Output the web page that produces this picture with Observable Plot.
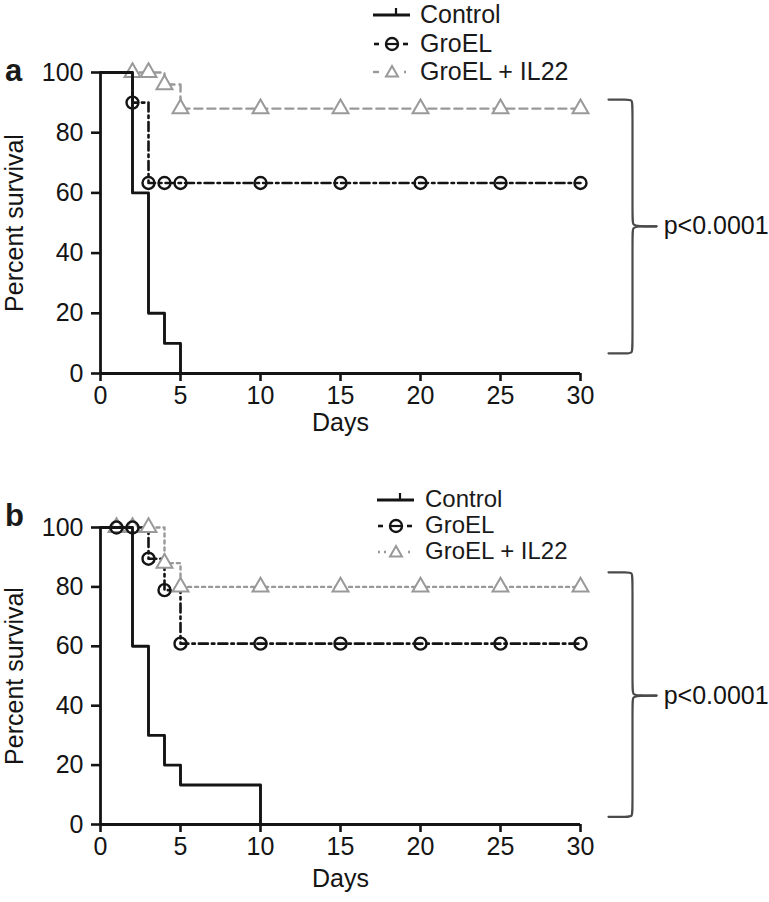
<!DOCTYPE html>
<html>
<head>
<meta charset="utf-8">
<script src="https://cdn.jsdelivr.net/npm/d3@7"></script>
<script src="https://cdn.jsdelivr.net/npm/@observablehq/plot@0.6"></script>
<style>
  body { margin: 0; background: #fff; font-family: "Liberation Sans", Arial, sans-serif; color: #1a1a1a; }
  #root { position: relative; width: 769px; height: 902px; overflow: hidden; }
  .panel { position: absolute; left: 0; }
  .plab { position: absolute; font-weight: bold; font-size: 31px; line-height: 31px; }
  .lrow { position: absolute; white-space: nowrap; }
  .lrow svg { position: absolute; top: 0; }
</style>
</head>
<body>
<div id="root"></div>
<script>
// ---------- data ----------
const groupNames = ["Control", "GroEL", "GroEL + IL22"];
const dayTicks = [0, 5, 10, 15, 20, 25, 30];
const pctTicks = [0, 20, 40, 60, 80, 100];
const pLabel = "p<0.0001";

// Panel a — Kaplan–Meier steps (day of change, percent after change)
const aControlDay = [0, 2, 3, 4, 5];
const aControlPct = [100, 60, 20, 10, 0];
const aGroELDay = [0, 2, 3, 30];
const aGroELPct = [100, 90, 63.3, 63.3];
const aGroELMarkDay = [2, 3, 4, 5, 10, 15, 20, 25, 30];
const aGroELMarkPct = [90, 63.3, 63.3, 63.3, 63.3, 63.3, 63.3, 63.3, 63.3];
const aIL22Day = [0, 4, 5, 30];
const aIL22Pct = [100, 96, 88, 88];
const aIL22MarkDay = [2, 3, 4, 5, 10, 15, 20, 25, 30];
const aIL22MarkPct = [100, 100, 96, 88, 88, 88, 88, 88, 88];
const aBracket = [91, 48.9, 6.7]; // top, middle, bottom (percent)

// Panel b
const bControlDay = [0, 2, 3, 4, 5, 10];
const bControlPct = [100, 60, 30, 20, 13.3, 0];
const bGroELDay = [0, 3, 4, 5, 30];
const bGroELPct = [100, 89.5, 78.9, 60.9, 60.9];
const bGroELMarkDay = [1, 2, 3, 4, 5, 10, 15, 20, 25, 30];
const bGroELMarkPct = [100, 100, 89.5, 78.9, 60.9, 60.9, 60.9, 60.9, 60.9, 60.9];
const bIL22Day = [0, 4, 5, 30];
const bIL22Pct = [100, 88, 80, 80];
const bIL22MarkDay = [1, 2, 3, 4, 5, 10, 15, 20, 25, 30];
const bIL22MarkPct = [100, 100, 100, 88, 80, 80, 80, 80, 80, 80];
const bBracket = [84.9, 43.4, 2.6];

// bracket geometry in day units (beyond the 30-day axis)
const bracketDays = [31.75, 33.25, 34.75, 35.2]; // arm start, spine, tip end, label x

// ---------- helpers ----------
const zip = (xs, ys) => xs.map((d, i) => ({day: d, pct: ys[i]}));
const BLACK = "#141414", GRAY = "#999999", BR = "#4a4a4a";
const FONT = "'Liberation Sans', Arial, sans-serif";
const FS = 25;

function bracketRows([top, mid, bot]) {
  const [x0, xs, xt] = bracketDays;
  const k = 2.6;
  const up = [[x0, top], [xs - 0.35, top], [xs, top], [xs, top - k], [xs, mid + k], [xs, mid + 0.4], [xs + 0.35, mid], [xt, mid]];
  const dn = [[x0, bot], [xs - 0.35, bot], [xs, bot], [xs, bot + k], [xs, mid - k], [xs, mid - 0.4], [xs + 0.35, mid], [xt, mid]];
  return [...up.map(([day, pct]) => ({day, pct, g: "u"})), ...dn.map(([day, pct]) => ({day, pct, g: "d"}))];
}

function panel(opts) {
  const {control, groel, groelMarks, il22, il22Marks, il22Dash, bracket, height, marginBottom, daysDy} = opts;
  return Plot.plot({
    width: 769,
    height,
    marginTop: 72,
    marginLeft: 100,
    marginRight: 189,
    marginBottom,
    x: {domain: [0, 30]},
    y: {domain: [0, 100]},
    style: {fontFamily: FONT, fontSize: FS + "px", color: BLACK, background: "transparent", overflow: "visible"},
    marks: [
      // bracket + p value
      Plot.line(bracketRows(bracket), {x: "day", y: "pct", z: "g", curve: "basis", stroke: BR, strokeWidth: 2.2}),
      Plot.text([pLabel], {x: () => bracketDays[3], y: () => bracket[1], textAnchor: "start", fontSize: FS, fill: BLACK}),
      // survival curves
      Plot.line(il22, {x: "day", y: "pct", curve: "step-after", stroke: GRAY, strokeWidth: 2.4, strokeDasharray: il22Dash}),
      Plot.line(groel, {x: "day", y: "pct", curve: "step-after", stroke: BLACK, strokeWidth: 2.6, strokeDasharray: "9,4,2.5,4"}),
      Plot.dot(il22Marks, {x: "day", y: "pct", symbol: "triangle", r: 5.9, stroke: GRAY, strokeWidth: 2, fill: "white"}),
      Plot.dot(groelMarks, {x: "day", y: "pct", r: 6, stroke: BLACK, strokeWidth: 2.4, fill: "none"}),
      Plot.line(control, {x: "day", y: "pct", curve: "step-after", stroke: BLACK, strokeWidth: 2.9}),
      // axes
      Plot.axisX({ticks: dayTicks, tickSize: 8, tickPadding: 5, strokeWidth: 2.6, stroke: BLACK, fontSize: FS, label: null}),
      Plot.axisY({ticks: pctTicks, tickSize: 9, tickPadding: 8, strokeWidth: 2.6, stroke: BLACK, fontSize: FS, label: null}),
      Plot.ruleY([0], {stroke: BLACK, strokeWidth: 2.8}),
      Plot.ruleX([0], {stroke: BLACK, strokeWidth: 2.8}),
      Plot.text(["Days"], {frameAnchor: "bottom", dy: daysDy, fontSize: FS, fill: BLACK}),
      Plot.text(["Percent survival"], {frameAnchor: "left", textAnchor: "middle", rotate: -90, dx: -86, fontSize: FS, fill: BLACK})
    ]
  });
}

const root = document.getElementById("root");

function place(el, top) {
  el.classList.add("panel");
  el.style.top = top + "px";
  root.appendChild(el);
}

place(panel({
  control: zip(aControlDay, aControlPct),
  groel: zip(aGroELDay, aGroELPct),
  groelMarks: zip(aGroELMarkDay, aGroELMarkPct),
  il22: zip(aIL22Day, aIL22Pct),
  il22Marks: zip(aIL22MarkDay, aIL22MarkPct),
  il22Dash: "8,5",
  bracket: aBracket,
  height: 455, marginBottom: 82, daysDy: 57
}), 0);

place(panel({
  control: zip(bControlDay, bControlPct),
  groel: zip(bGroELDay, bGroELPct),
  groelMarks: zip(bGroELMarkDay, bGroELMarkPct),
  il22: zip(bIL22Day, bIL22Pct),
  il22Marks: zip(bIL22MarkDay, bIL22MarkPct),
  il22Dash: "3,4",
  bracket: bBracket,
  height: 447, marginBottom: 78, daysDy: 62
}), 455);

// panel letters
[["a", 55], ["b", 500]].forEach(([t, top]) => {
  const d = document.createElement("div");
  d.className = "plab"; d.textContent = t;
  d.style.left = "5px"; d.style.top = top + "px";
  root.appendChild(d);
});

// legends
function swatch(kind, dashed, h) {
  const ns = "http://www.w3.org/2000/svg";
  const s = document.createElementNS(ns, "svg");
  const c = h / 2 + 1;
  s.setAttribute("width", 40); s.setAttribute("height", h);
  let html = "";
  if (kind === 0) {
    html = `<line x1="1" y1="${c}" x2="38" y2="${c}" stroke="${BLACK}" stroke-width="2.8"/><line x1="24" y1="${c - 7}" x2="24" y2="${c}" stroke="${BLACK}" stroke-width="2.2"/>`;
  } else if (kind === 1) {
    html = `<line x1="2" y1="${c}" x2="7" y2="${c}" stroke="${BLACK}" stroke-width="2.6"/><line x1="31" y1="${c}" x2="36" y2="${c}" stroke="${BLACK}" stroke-width="2.6"/><line x1="13" y1="${c}" x2="27" y2="${c}" stroke="${BLACK}" stroke-width="2.2"/><circle cx="20" cy="${c}" r="6" fill="none" stroke="${BLACK}" stroke-width="2.4"/>`;
  } else {
    const l = dashed ? `<line x1="1" y1="${c}" x2="7" y2="${c}" stroke="${GRAY}" stroke-width="2.4"/>` : `<line x1="2" y1="${c}" x2="4" y2="${c}" stroke="${GRAY}" stroke-width="2.4"/><line x1="8" y1="${c}" x2="10" y2="${c}" stroke="${GRAY}" stroke-width="2.4"/>`;
    html = l + `<path d="M20,${c - 6} L26,${c + 4.5} L14,${c + 4.5} Z" fill="white" stroke="${GRAY}" stroke-width="2"/><line x1="32" y1="${c}" x2="34" y2="${c}" stroke="${GRAY}" stroke-width="2.4"/>`;
  }
  s.innerHTML = html;
  return s;
}

function legend(swLeft, textLeft, tops, dashed, h, fs) {
  groupNames.forEach((name, i) => {
    const row = document.createElement("div");
    row.className = "lrow";
    row.style.left = swLeft + "px";
    row.style.top = tops[i] + "px";
    row.style.height = h + "px";
    row.style.lineHeight = h + "px";
    row.style.fontSize = fs + "px";
    const sw = swatch(i, dashed, h);
    sw.style.left = "0px";
    row.appendChild(sw);
    const span = document.createElement("span");
    span.textContent = name;
    span.style.position = "absolute";
    span.style.left = (textLeft - swLeft) + "px";
    row.appendChild(span);
    root.appendChild(row);
  });
}
legend(372, 420, [0, 29, 57], true, 28, 25);
legend(376, 425, [486, 512, 538], false, 26, 24);
</script>
</body>
</html>
